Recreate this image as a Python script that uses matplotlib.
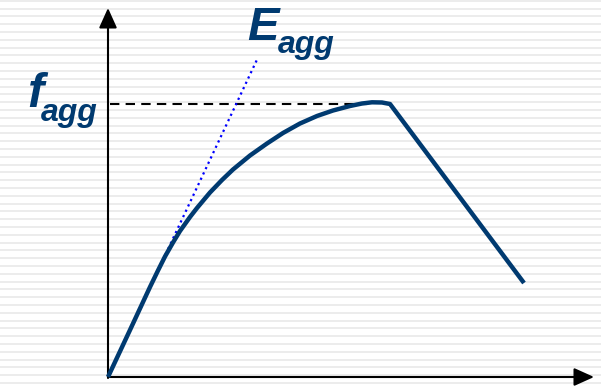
import numpy as np
import matplotlib
matplotlib.use('Agg')
import matplotlib.pyplot as plt

# stress-strain curve of the aggregate (strain in permille, stress in MPa)
strain = [0.0, 0.22, 0.42, 0.50, 0.57, 0.65, 0.72, 0.82, 0.89, 1.02, 1.14, 1.25,
          1.42, 1.59, 1.75, 1.92, 2.09, 2.25, 2.42, 2.54, 2.64, 2.74, 2.82, 4.16]
stress = [0.0, 4.7, 9.0, 10.65, 12.05, 13.45, 14.6, 16.0, 16.9, 18.45, 19.7, 20.75,
          22.15, 23.35, 24.4, 25.35, 26.1, 26.65, 27.1, 27.35, 27.47, 27.45, 27.3, 9.4]

f_agg = 27.3
e_tangent = [0.0, 1.50]        # strain range of the initial tangent
e_modulus = 21.3               # slope of the initial tangent

navy = '#003a70'

fig = plt.figure(figsize=(6.01, 3.89), dpi=100)
ax = fig.add_axes([0, 0, 1, 1])
ax.set_xlim(-1.08, 4.93)
ax.set_ylim(-1.2, 37.7)
ax.axis('off')

# striped background
for y in np.arange(37.63, -1.3, -0.78):
    ax.axhline(y, color='#ececec', lw=1.4, zorder=0)

# axes with arrow heads
arrow = dict(arrowstyle='-|>,head_length=1.22,head_width=0.55', color='black',
             lw=1.5, mutation_scale=10, shrinkA=0, shrinkB=0)
ax.annotate('', xy=(0, 36.9), xytext=(0, -0.1), arrowprops=arrow, zorder=3)
ax.annotate('', xy=(4.86, 0), xytext=(0, 0), arrowprops=arrow, zorder=3)

# peak stress and initial tangent
ax.plot([0.02, 2.59], [f_agg, f_agg], color='black', lw=1.5,
        linestyle=(0, (4.5, 3)), zorder=2)
ax.plot(e_tangent, [e * e_modulus for e in e_tangent], color='#0000ff', lw=1.6,
        linestyle=':', zorder=2)

ax.plot(strain, stress, color=navy, lw=3.2, solid_joinstyle='round',
        solid_capstyle='butt', zorder=4)

font = dict(family='Liberation Sans', weight='bold', style='italic', color=navy)
ax.text(-0.81, 27.0, 'f', fontsize=35, **font)
ax.text(-0.67, 25.6, 'agg', fontsize=23, **font)
ax.text(1.39, 33.7, 'E', fontsize=34, **font)
ax.text(1.70, 32.4, 'agg', fontsize=23, **font)

fig.savefig('out.png', dpi=100)
